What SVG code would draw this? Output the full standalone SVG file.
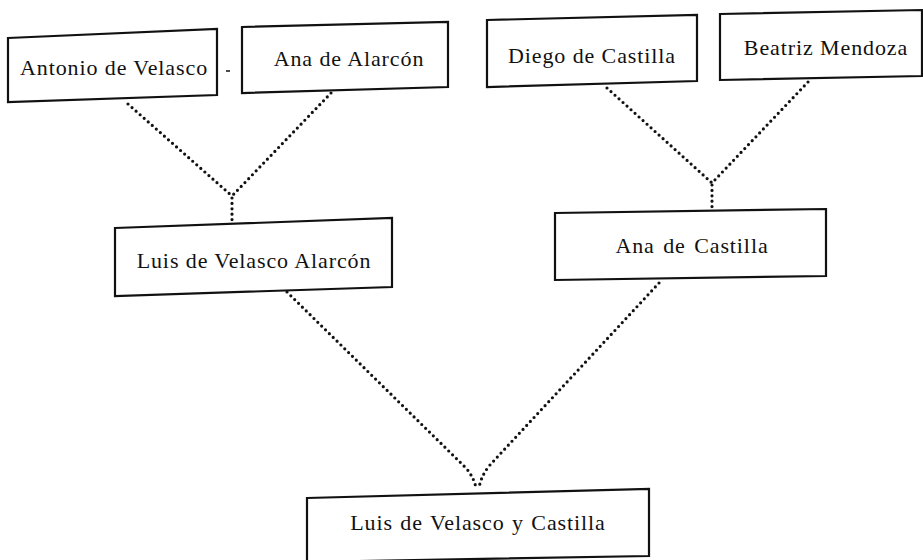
<svg xmlns="http://www.w3.org/2000/svg" width="923" height="560" viewBox="0 0 923 560">
<style>
.box{fill:none;stroke:#111;stroke-width:2.2;stroke-linejoin:miter}
.lbl{font-family:"Liberation Serif","DejaVu Serif",serif;font-size:22px;fill:#111;text-anchor:middle;letter-spacing:0.9px}
.dot{fill:none;stroke:#111;stroke-width:3.2;stroke-linecap:round;stroke-dasharray:0 5.4}
</style>
<rect width="923" height="560" fill="#fff"/>
<g id="connectors">
<path class="dot" d="M128,104 L232,196"/>
<path class="dot" d="M331,93 L232,196"/>
<path class="dot" d="M232,198 L232,221"/>
<path class="dot" d="M607,88 L712,183"/>
<path class="dot" d="M808,82 L712,183"/>
<path class="dot" d="M712,185 L712,208"/>
<path class="dot" d="M287,292 L466,468 Q475,479 476,489"/>
<path class="dot" d="M659,283 L489,466 Q480,478 479,489"/>
</g>
<line x1="226" y1="71" x2="230" y2="71" stroke="#111" stroke-width="1.5"/>
<g id="n1">
<polygon class="box" points="8,38 217,29 217,95 8,102"/>
<text class="lbl" x="114" y="75">Antonio de Velasco</text>
</g>
<g id="n2">
<polygon class="box" points="242,27 448,22 448,87 242,93"/>
<text class="lbl" x="349" y="66">Ana de Alarcón</text>
</g>
<g id="n3">
<polygon class="box" points="487,20 697,15 697,81 487,87"/>
<text class="lbl" x="592" y="63">Diego de Castilla</text>
</g>
<g id="n4">
<polygon class="box" points="720,14 922,10 922,76 720,80"/>
<text class="lbl" x="826" y="55">Beatriz Mendoza</text>
</g>
<g id="n5">
<polygon class="box" points="115,228 392,218 392,287 115,296"/>
<text class="lbl" x="254" y="268">Luis de Velasco Alarcón</text>
</g>
<g id="n6">
<polygon class="box" points="555,213 826,209 826,276 555,280"/>
<text class="lbl" x="692" y="253" style="word-spacing:2px">Ana de Castilla</text>
</g>
<g id="n7">
<polygon class="box" points="307,498 649,489 649,556 307,562"/>
<text class="lbl" x="478" y="530" style="word-spacing:1px">Luis de Velasco y Castilla</text>
</g>
</svg>
